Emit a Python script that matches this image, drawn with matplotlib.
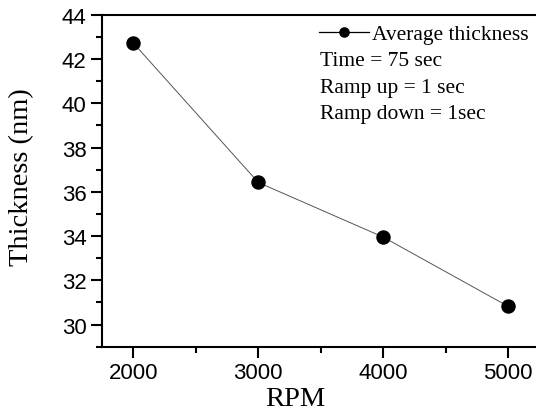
import matplotlib
matplotlib.use("Agg")
import matplotlib.pyplot as plt
from matplotlib.ticker import MultipleLocator

rpm = [2000, 3000, 4000, 5000]
thickness = [42.72, 36.42, 33.95, 30.82]
series_label = "Average thickness"
notes = ["Time = 75 sec", "Ramp up = 1 sec", "Ramp down = 1sec"]
x_label = "RPM"
y_label = "Thickness (nm)"
y_ticks = [30, 32, 34, 36, 38, 40, 42, 44]
x_ticks = [2000, 3000, 4000, 5000]

W, H = 536, 414
fig = plt.figure(figsize=(W / 100, H / 100), dpi=100)

left_px, right_px, top_px, bottom_px = 101.7, 536, 15.7, 347.7
ax = fig.add_axes([left_px / W, 1 - bottom_px / H,
                   (right_px - left_px) / W, (bottom_px - top_px) / H])

serif = "Liberation Serif"
sans = "Liberation Sans"

ax.plot(rpm, thickness, color="#555555", lw=0.7, marker="o", ms=9.4,
        mfc="black", mec="black", label=series_label)

ax.set_xlim(1747, 5222)
ax.set_ylim(29, 44)
ax.set_xticks(x_ticks)
ax.set_yticks(y_ticks)
ax.xaxis.set_minor_locator(MultipleLocator(500))
ax.yaxis.set_minor_locator(MultipleLocator(1))

for s in ["left", "bottom", "top"]:
    ax.spines[s].set_linewidth(1.5)
ax.spines["right"].set_visible(False)

ax.tick_params(which="major", direction="out", length=8, width=1.5,
               labelsize=16, pad=3)
ax.tick_params(which="minor", direction="out", length=4, width=1.5)
ax.tick_params(top=False, right=False, which="both")
for lab in ax.get_xticklabels() + ax.get_yticklabels():
    lab.set_fontfamily(sans)

ax.set_xlabel(x_label, fontfamily=serif, fontsize=20.5)
ax.set_ylabel(y_label, fontfamily=serif, fontsize=20.5)
ax.xaxis.set_label_coords((295 - left_px) / (right_px - left_px), -(400 - bottom_px) / (bottom_px - top_px))
ax.yaxis.set_label_coords(-(101.7 - 22) / (right_px - left_px), (bottom_px - 177) / (bottom_px - top_px))
ax.xaxis.label.set_va("center")
ax.yaxis.label.set_va("center")

leg = fig.legend(loc="center left", bbox_to_anchor=(319 / W, 1 - 35 / H),
                 frameon=False, borderpad=0, borderaxespad=0,
                 handlelength=2.3, handletextpad=0.15, markerscale=0.7,
                 prop={"family": serif, "size": 15.5})
for ln in leg.get_lines():
    ln.set_color("black")
    ln.set_linewidth(0.9)

for i, t in enumerate(notes):
    fig.text(320 / W, 1 - (62 + 26.3 * i) / H, t, fontfamily=serif,
             fontsize=15.5, va="center", ha="left")

fig.savefig("out.png", dpi=100)
